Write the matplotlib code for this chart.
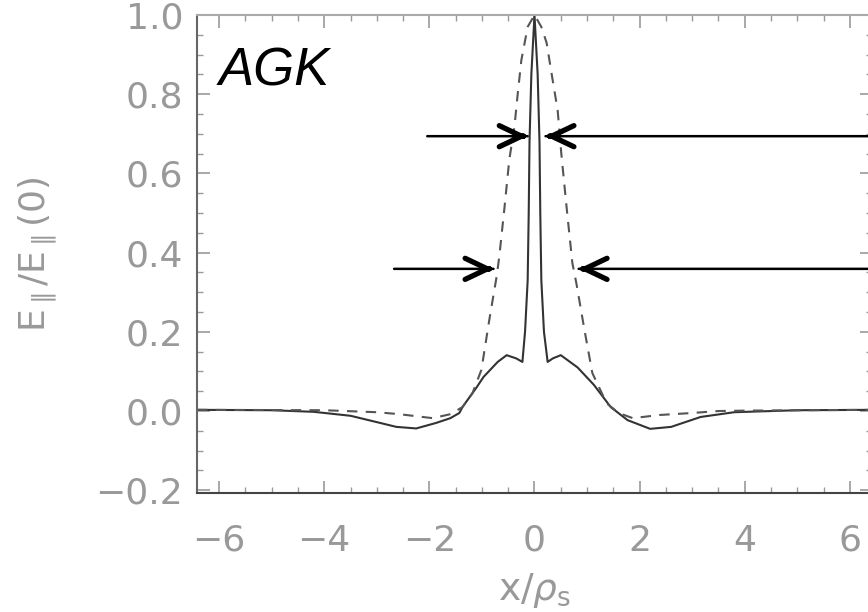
import matplotlib
matplotlib.use('Agg')
import matplotlib.pyplot as plt
from matplotlib.ticker import MultipleLocator

# solid curve (spike + shoulders)
x_solid = [-6.42, -5.0, -4.2, -3.5, -3.0, -2.63, -2.25, -1.87, -1.6, -1.43, -1.37, -1.1, -0.97,
           -0.7, -0.53, -0.35, -0.23, -0.18, -0.13, -0.11, -0.095, -0.06, 0.0,
           0.06, 0.095, 0.11, 0.13, 0.18, 0.25, 0.35, 0.5, 0.82, 1.13, 1.45, 1.77,
           2.2, 2.6, 3.16, 3.8, 5.0, 6.42]
y_solid = [0.003, 0.002, -0.002, -0.012, -0.028, -0.04, -0.044, -0.03, -0.018, -0.005, 0.01, 0.06, 0.086,
           0.124, 0.141, 0.133, 0.124, 0.2, 0.33, 0.5, 0.68, 0.85, 1.0,
           0.85, 0.68, 0.5, 0.33, 0.2, 0.124, 0.133, 0.141, 0.11, 0.066, 0.01, -0.023,
           -0.045, -0.04, -0.015, -0.003, 0.002, 0.003]

# dashed curve (broad peak)
x_dash = [-6.42, -4.0, -3.0, -2.57, -1.94, -1.6, -1.37, -1.18, -1.01, -0.86, -0.72, -0.67, -0.57,
          -0.48, -0.38, -0.32, -0.25, -0.13, 0.0, 0.13, 0.23, 0.34, 0.44, 0.51, 0.61, 0.72,
          0.8, 0.95, 1.1, 1.37, 1.6, 1.87, 2.38, 3.0, 3.5, 4.0, 6.42]
y_dash = [0.003, 0.002, -0.003, -0.008, -0.018, -0.008, 0.01, 0.045, 0.104, 0.23, 0.34, 0.39, 0.515,
          0.634, 0.72, 0.80, 0.886, 0.97, 1.0, 0.97, 0.93, 0.84, 0.76, 0.65, 0.515, 0.374,
          0.32, 0.205, 0.096, 0.02, -0.005, -0.018, -0.01, -0.005, 0.0, 0.001, 0.003]

# arrows: (start x, tip x, y)
arrows = [(-2.04, -0.13, 0.694), (6.42, 0.21, 0.694),
          (-2.67, -0.78, 0.359), (6.42, 0.84, 0.359)]

gray = '#999999'

fig = plt.figure(figsize=(8.68, 6.12), dpi=100)
ax = fig.add_axes([197/868, 119/612, 675/868, 478/612])

ax.plot(x_solid, y_solid, color='#333333', lw=1.5)
ax.plot(x_dash, y_dash, color='#555555', lw=1.5, dashes=(5, 4))

for x0, x1, y in arrows:
    ax.annotate('', xy=(x1, y), xytext=(x0, y),
                arrowprops=dict(arrowstyle='-', lw=1.8, color='black', shrinkA=0, shrinkB=0))
    d = 4 if x0 < x1 else -4
    ax.annotate('', xy=(x1, y), xytext=(-d, 0), textcoords='offset points',
                arrowprops=dict(arrowstyle='->,head_length=0.8,head_width=0.38', mutation_scale=20,
                                lw=3.8, color='black', shrinkA=0, shrinkB=0))

ax.text(-6.0, 0.823, 'AGK', fontsize=38, style='italic', family='Liberation Sans',
        color='black', va='baseline', ha='left')

ax.set_xlim(-6.42, 6.42)
ax.set_ylim(-0.207, 1.0)
ax.xaxis.set_major_locator(MultipleLocator(2))
ax.xaxis.set_minor_locator(MultipleLocator(0.5))
ax.yaxis.set_major_locator(MultipleLocator(0.2))
ax.yaxis.set_minor_locator(MultipleLocator(0.05))
ax.tick_params(which='both', direction='in', top=True, right=True, colors=gray,
               labelsize=26, labelcolor=gray)
ax.tick_params(which='major', length=9, width=1.2)
ax.tick_params(which='minor', length=4.5, width=1.0)
ax.tick_params(axis='x', pad=22)
ax.tick_params(axis='y', pad=10)
ax.set_yticks([-0.2, 0.0, 0.2, 0.4, 0.6, 0.8, 1.0])
ax.set_yticklabels(['\u22120.2', '0.0', '0.2', '0.4', '0.6', '0.8', '1.0'])
ax.set_xticks([-6, -4, -2, 0, 2, 4, 6])
ax.set_xticklabels(['\u22126', '\u22124', '\u22122', '0', '2', '4', '6'])

ax.spines['left'].set_color('#666666')
ax.spines['top'].set_color('#aaaaaa')
ax.spines['bottom'].set_color('#444444')
ax.spines['right'].set_color('#888888')
for s in ax.spines.values():
    s.set_linewidth(1.5)

ax.set_ylabel(r'E$_{\parallel}$/E$_{\parallel}$(0)', fontsize=26, color=gray)
ax.yaxis.set_label_coords(-0.205, 0.5)
ax.set_xlabel(r'x/$\rho_{\rm s}$', fontsize=27, color=gray)
ax.xaxis.set_label_coords(0.5, -0.163)

fig.savefig('out.png', dpi=100)
